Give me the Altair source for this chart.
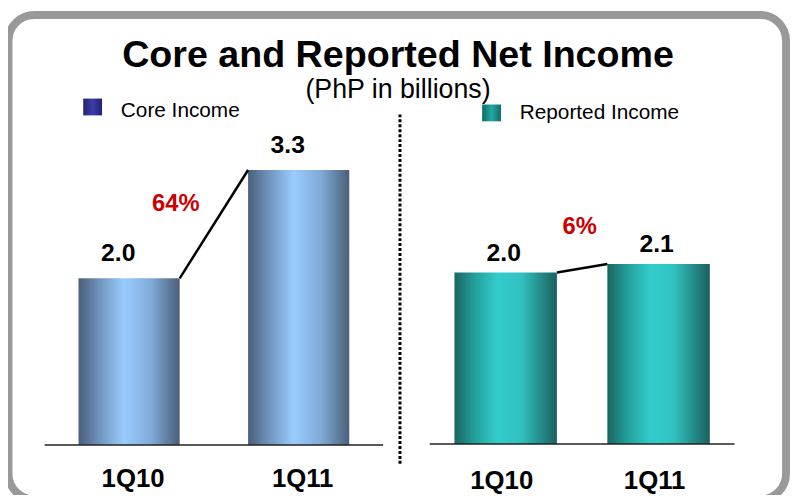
import altair as alt
import pandas as pd

# ---------------- data ----------------
periods = ["1Q10", "1Q11"]
core_income = [2.0, 3.3]
reported_income = [2.0, 2.1]
core_change = "64%"
reported_change = "6%"

FONT = "Liberation Sans"
H = 487

core_df = pd.DataFrame({"period": periods, "value": core_income})
rep_df = pd.DataFrame({"period": periods, "value": reported_income})
core_link = pd.DataFrame({"from": [periods[0]], "to": [periods[1]],
                          "v_from": [core_income[0]], "v_to": [core_income[1]],
                          "pct": [core_change]})
rep_link = pd.DataFrame({"from": [periods[0]], "to": [periods[1]],
                         "v_from": [reported_income[0]], "v_to": [reported_income[1]],
                         "pct": [reported_change]})
one = pd.DataFrame({"k": [0]})

# ---------------- styles ----------------
blue_grad = alt.Gradient(
    gradient="linear", x1=0, x2=1, y1=0, y2=0,
    stops=[alt.GradientStop(color="#4a5f7a", offset=0),
           alt.GradientStop(color="#6f92bb", offset=0.2),
           alt.GradientStop(color="#99ccff", offset=0.45),
           alt.GradientStop(color="#80aad8", offset=0.72),
           alt.GradientStop(color="#4a5f78", offset=1)])
teal_grad = alt.Gradient(
    gradient="linear", x1=0, x2=1, y1=0, y2=0,
    stops=[alt.GradientStop(color="#1a6662", offset=0),
           alt.GradientStop(color="#23a09c", offset=0.2),
           alt.GradientStop(color="#33cccc", offset=0.42),
           alt.GradientStop(color="#30c2c0", offset=0.65),
           alt.GradientStop(color="#1a605d", offset=1)])
navy_grad = alt.Gradient(
    gradient="linear", x1=0, x2=1, y1=0, y2=0,
    stops=[alt.GradientStop(color="#22226e", offset=0),
           alt.GradientStop(color="#3c3cab", offset=0.5),
           alt.GradientStop(color="#22226e", offset=1)])
teal_sw = alt.Gradient(
    gradient="linear", x1=0, x2=1, y1=0, y2=0,
    stops=[alt.GradientStop(color="#0d6a67", offset=0),
           alt.GradientStop(color="#22a8a3", offset=0.5),
           alt.GradientStop(color="#0d6a67", offset=1)])


def panel(df, link, grad, xrange, pad_in, pad_out, yrange, lab_dx, lab_dy,
          pct_dx, pct_dy, cat_dx, cat_dy):
    xs = alt.Scale(domain=periods, range=xrange, paddingInner=pad_in,
                   paddingOuter=pad_out)
    ys = alt.Scale(domain=[0, 5], range=yrange)
    base = alt.Chart(df)
    bars = base.mark_bar(fill=grad).encode(
        x=alt.X("period:N", scale=xs, axis=None),
        y=alt.Y("value:Q", scale=ys, axis=None),
    )
    baseline = alt.Chart(one).mark_rule(color="#222222", strokeWidth=1.5).encode(
        x=alt.value(xrange[0]), x2=alt.value(xrange[1]),
        y=alt.Y(datum=0, scale=ys, axis=None),
    )
    cats = base.mark_text(font=FONT, fontSize=26, fontWeight="bold",
                          color="black", baseline="alphabetic",
                          dx=cat_dx, dy=cat_dy).encode(
        x=alt.X("period:N", scale=xs, axis=None),
        y=alt.Y(datum=0, scale=ys, axis=None),
        text="period:N",
    )
    labels = base.mark_text(font=FONT, fontSize=25, fontWeight="bold",
                            color="black", baseline="alphabetic",
                            dx=lab_dx, dy=lab_dy).encode(
        x=alt.X("period:N", scale=xs, axis=None),
        y=alt.Y("value:Q", scale=ys, axis=None),
        text=alt.Text("value:Q", format=".1f"),
    )
    lk = alt.Chart(link)
    rule = lk.mark_rule(color="black", strokeWidth=2.5).encode(
        x=alt.X("from:N", scale=xs, axis=None, bandPosition=1),
        x2=alt.X2("to:N", bandPosition=0),
        y=alt.Y("v_from:Q", scale=ys, axis=None),
        y2=alt.Y2("v_to:Q"),
    )
    pct = lk.mark_text(font=FONT, fontSize=24, fontWeight="bold",
                       color="#cc0000", baseline="alphabetic",
                       dx=pct_dx, dy=pct_dy).encode(
        x=alt.X("from:N", scale=xs, axis=None, bandPosition=1),
        y=alt.Y("v_to:Q", scale=ys, axis=None),
        text="pct:N",
    )
    return alt.layer(bars, baseline, cats, rule, labels, pct)


left = panel(core_df, core_link, blue_grad, [37, 379], 0.4035, 0.2,
             [439, 18], -11, -17, -4, 41, 4, 42)
right = panel(rep_df, rep_link, teal_grad, [426, 734], 0.33, 0.162,
              [438, 5], -2, -12, 23, -30, -4, 45)

# ---------------- decorations ----------------
d = alt.Chart(one)
frame = d.mark_rect(fill="transparent", stroke="#999999", strokeWidth=8,
                    cornerRadius=26).encode(
    x=alt.value(0.5), x2=alt.value(786), y=alt.value(4.5), y2=alt.value(494))
divider = d.mark_rule(color="black", strokeWidth=3, strokeDash=[3, 2]).encode(
    x=alt.value(396), y=alt.value(105), y2=alt.value(459))
title = d.mark_text(text="Core and Reported Net Income", font=FONT,
                    fontSize=38, fontWeight="bold", color="black",
                    align="center", baseline="alphabetic").encode(
    x=alt.value(394), y=alt.value(57))
subtitle = d.mark_text(text="(PhP in billions)", font=FONT, fontSize=27,
                       color="black", align="center",
                       baseline="alphabetic").encode(
    x=alt.value(394), y=alt.value(88))
sw1 = d.mark_rect(fill=navy_grad).encode(
    x=alt.value(76), x2=alt.value(95), y=alt.value(89), y2=alt.value(106))
tx1 = d.mark_text(text="Core Income", font=FONT, fontSize=21, color="black",
                  align="left", baseline="alphabetic").encode(
    x=alt.value(114), y=alt.value(107.5))
sw2 = d.mark_rect(fill=teal_sw).encode(
    x=alt.value(479), x2=alt.value(498), y=alt.value(95), y2=alt.value(112))
tx2 = d.mark_text(text="Reported Income", font=FONT, fontSize=21,
                  color="black", align="left", baseline="alphabetic").encode(
    x=alt.value(517), y=alt.value(110))

deco = alt.layer(frame, divider, title, subtitle, sw1, tx1, sw2, tx2)

chart = alt.layer(deco, left, right).resolve_scale(
    x="independent", y="independent"
).properties(
    width=790, height=H, padding=0, autosize="none", background="white"
).configure_view(stroke=None)

chart.save("out.html", embed_options={"renderer": "svg", "actions": False})
